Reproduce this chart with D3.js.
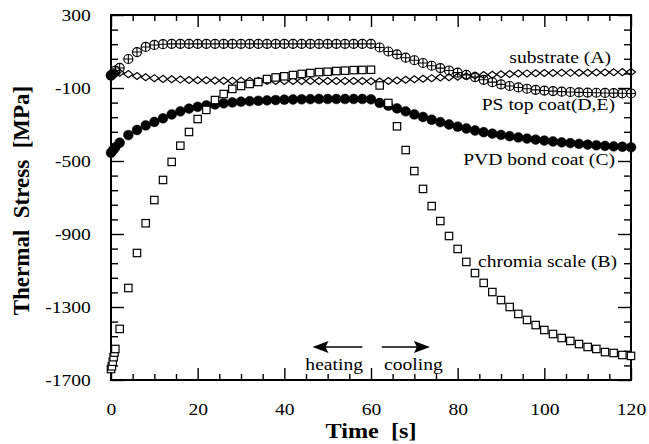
<!DOCTYPE html>
<html><head><meta charset="utf-8">
<script src="https://cdn.jsdelivr.net/npm/d3@7/dist/d3.min.js"></script>
<style>
html,body{margin:0;padding:0;background:#fff;}
text{font-family:"Liberation Serif","Times New Roman",serif;fill:#000;}
</style></head>
<body><svg id="c" width="649" height="444"></svg>
<script>
// ---------- data ----------
const xTicks = [0,20,40,60,80,100,120];
const yTicks = [300,-100,-500,-900,-1300,-1700];

// substrate (A) - diamonds
const tA = [0,0.5,1,2,4,6,8,10,12,14,16,18,20,22,24,26,28,30,32,34,36,38,40,42,44,46,48,50,52,54,56,58,60,62,64,66,68,70,72,74,76,78,80,82,84,86,88,90,92,94,96,98,100,102,104,106,108,110,112,114,116,118,120];
const vA = [-30,-26,-22,-16,-24,-34,-41,-46,-50,-52,-54,-56,-57,-58,-59,-60,-61,-61,-61,-61,-61,-62,-62,-62,-62,-62,-62,-62,-62,-62,-62,-62,-63,-64,-62,-59,-55,-52,-49,-46,-43,-41,-38,-35,-32,-29,-27,-25,-23,-21,-20,-19,-18,-18,-17,-17,-16,-16,-15,-15,-14,-13,-12];

// PS top coat (D,E) - circle with plus
const tDE = [0,0.5,1,2,4,6,8,10,12,14,16,18,20,22,24,26,28,30,32,34,36,38,40,42,44,46,48,50,52,54,56,58,60,62,64,66,68,70,72,74,76,78,80,82,84,86,88,90,92,94,96,98,100,102,104,106,108,110,112,114,116,118,120];
const vDE = [-32,-20,-5,10,59,97,125,136,140,142,142,142,142,142,142,142,142,142,142,142,142,142,142,142,142,142,142,142,142,142,142,142,142,122,100,84,66,52,37,22,9,-4,-16,-28,-40,-55,-68,-80,-89,-97,-104,-110,-114,-117,-120,-122,-124,-125,-126,-127,-128,-129,-130];

// PVD bond coat (C) - filled circles
const tC = [0,0,0.5,1,2,4,6,8,10,12,14,16,18,20,22,24,26,28,30,32,34,36,38,40,42,44,46,48,50,52,54,56,58,60,62,64,66,68,70,72,74,76,78,80,82,84,86,88,90,92,94,96,98,100,102,104,106,108,110,112,114,116,118,120];
const vC = [-30,-455,-440,-425,-400,-358,-330,-305,-286,-266,-245,-228,-213,-203,-196,-190,-184,-179,-175,-172,-170,-168,-166,-164,-163,-162,-161,-160,-160,-160,-160,-160,-160,-162,-182,-197,-212,-228,-245,-259,-274,-287,-300,-312,-322,-333,-342,-350,-357,-364,-371,-377,-383,-388,-393,-398,-402,-406,-410,-414,-417,-420,-422,-425];

// chromia scale (B) - squares
const tB = [0,0.2,0.4,0.6,0.8,1,2,4,6,8,10,12,14,16,18,20,22,24,26,28,30,32,34,36,38,40,42,44,46,48,50,52,54,56,58,60,62,64,66,68,70,72,74,76,78,80,82,84,86,88,90,92,94,96,98,100,102,104,106,108,110,112,114,116,118,120];
const vB = [-1640,-1625,-1600,-1575,-1550,-1530,-1420,-1196,-1004,-841,-714,-604,-505,-416,-341,-270,-220,-166,-133,-105,-89,-78,-67,-51,-42,-36,-29,-23,-18,-13,-11,-7,-5,-2,-1,0,-86,-182,-310,-440,-555,-653,-747,-829,-911,-982,-1053,-1114,-1168,-1218,-1262,-1300,-1338,-1371,-1399,-1426,-1448,-1470,-1486,-1503,-1519,-1530,-1547,-1552,-1563,-1568];

const seriesLabels = ["substrate (A)","PS top coat(D,E)","PVD bond coat (C)","chromia scale (B)"];
const labelT = [115.4,116.3,116.3,116.8];   // right end of label (time units)
const labelV = [37,-220,-522,-1081];        // baseline (stress units)
const xTitle = "Time  [s]";
const yTitle = "Thermal  Stress  [MPa]";

// ---------- chart ----------
const svg = d3.select("#c");
const x = d3.scaleLinear().domain([0,120]).range([111,631]);
const y = d3.scaleLinear().domain([-1700,300]).range([380,15]);
const SX = 1.12;

const zip = (t,v)=>t.map((d,i)=>({t:d,v:v[i]}));

const xMinor = d3.range(0,121,5).filter(d=>d%20!==0);
const yMinor = d3.range(-1700,301,80).filter(d=>(d+1700)%400!==0);

function styleAxis(g){
  g.select(".domain").remove();
  g.selectAll("line").attr("stroke","#000").attr("stroke-width",1.4);
}
const fmt = d=>String(d);
// bottom
svg.append("g").attr("transform",`translate(0,${y(-1700)})`)
  .call(d3.axisBottom(x).tickValues(xTicks).tickSizeInner(-12).tickSizeOuter(0).tickPadding(23).tickFormat(fmt))
  .call(styleAxis)
  .call(g=>g.selectAll("text").attr("font-size",17.5).attr("transform",`scale(${SX},1)`).style("font-family","Liberation Serif"));
svg.append("g").attr("transform",`translate(0,${y(-1700)})`)
  .call(d3.axisBottom(x).tickValues(xMinor).tickSizeInner(-6).tickSizeOuter(0).tickFormat(""))
  .call(styleAxis);
// top
svg.append("g").attr("transform",`translate(0,${y(300)})`)
  .call(d3.axisTop(x).tickValues(xTicks).tickSizeInner(-12).tickSizeOuter(0).tickFormat(""))
  .call(styleAxis);
svg.append("g").attr("transform",`translate(0,${y(300)})`)
  .call(d3.axisTop(x).tickValues(xMinor).tickSizeInner(-6).tickSizeOuter(0).tickFormat(""))
  .call(styleAxis);
// left
svg.append("g").attr("transform",`translate(${x(0)},0)`)
  .call(d3.axisLeft(y).tickValues(yTicks).tickSizeInner(-13).tickSizeOuter(0).tickPadding(18).tickFormat(fmt))
  .call(styleAxis)
  .call(g=>g.selectAll("text").attr("font-size",17.5).attr("transform",`scale(${SX},1)`).attr("dy","0.34em").style("font-family","Liberation Serif"));
svg.append("g").attr("transform",`translate(${x(0)},0)`)
  .call(d3.axisLeft(y).tickValues(yMinor).tickSizeInner(-7).tickSizeOuter(0).tickFormat(""))
  .call(styleAxis);
// right
svg.append("g").attr("transform",`translate(${x(120)},0)`)
  .call(d3.axisRight(y).tickValues(yTicks).tickSizeInner(-13).tickSizeOuter(0).tickFormat(""))
  .call(styleAxis);
svg.append("g").attr("transform",`translate(${x(120)},0)`)
  .call(d3.axisRight(y).tickValues(yMinor).tickSizeInner(-7).tickSizeOuter(0).tickFormat(""))
  .call(styleAxis);

// frame
svg.append("rect").attr("x",x(0)).attr("y",y(300)).attr("width",x(120)-x(0)).attr("height",y(-1700)-y(300))
  .attr("fill","none").attr("stroke","#000").attr("stroke-width",2);

const plot = svg.append("g");

// filled circles (C)
plot.selectAll(".c").data(zip(tC,vC)).join("circle")
  .attr("cx",d=>x(d.t)).attr("cy",d=>y(d.v)).attr("r",4.9)
  .attr("fill","#000").attr("stroke","#000").attr("stroke-width",0.5);

// diamonds (A)
plot.selectAll(".a").data(zip(tA,vA)).join("path")
  .attr("d",d=>{const cx=x(d.t),cy=y(d.v),w=4.5,h=3.5;return `M${cx-w},${cy}L${cx},${cy-h}L${cx+w},${cy}L${cx},${cy+h}Z`;})
  .attr("fill","none").attr("stroke","#000").attr("stroke-width",1.2);

// circle-plus (D,E)
const de = plot.selectAll(".de").data(zip(tDE,vDE)).join("g");
de.append("circle").attr("cx",d=>x(d.t)).attr("cy",d=>y(d.v)).attr("r",4.5)
  .attr("fill","none").attr("stroke","#000").attr("stroke-width",1.2);
de.append("path").attr("d",d=>{const cx=x(d.t),cy=y(d.v),r=4.5;return `M${cx-r},${cy}H${cx+r}M${cx},${cy-r}V${cy+r}`;})
  .attr("stroke","#000").attr("stroke-width",1.1);

// squares (B)
plot.selectAll(".b").data(zip(tB,vB)).join("rect")
  .attr("x",d=>x(d.t)-3.7).attr("y",d=>y(d.v)-3.7).attr("width",7.4).attr("height",7.4)
  .attr("fill","#fff").attr("stroke","#000").attr("stroke-width",1.2);

// series labels
seriesLabels.forEach((s,i)=>{
  svg.append("text").attr("transform",`translate(${x(labelT[i])},${y(labelV[i])}) scale(${SX},1)`)
    .attr("text-anchor","end").attr("font-size",17.5).text(s);
});

// heating / cooling
svg.append("text").attr("transform",`translate(${x(51.5)},370) scale(${SX},1)`).attr("text-anchor","middle").attr("font-size",17.5).text("heating");
svg.append("text").attr("transform",`translate(${x(69.8)},370) scale(${SX},1)`).attr("text-anchor","middle").attr("font-size",17.5).text("cooling");
function arrow(x1,x2,yy){
  const dir = Math.sign(x2-x1), L=16, Hh=6, notch=3;
  svg.append("line").attr("x1",x1).attr("x2",x2-dir*L*0.6).attr("y1",yy).attr("y2",yy).attr("stroke","#000").attr("stroke-width",1.6);
  svg.append("path").attr("d",`M${x2},${yy}L${x2-dir*L},${yy-Hh}L${x2-dir*(L-notch)},${yy}L${x2-dir*L},${yy+Hh}Z`).attr("fill","#000");
}
arrow(x(58),x(46.5),347);
arrow(x(62.5),x(73.6),347);

// axis titles
svg.append("text").attr("transform",`translate(${(x(0)+x(120))/2},438) scale(1.1,1)`)
  .attr("text-anchor","middle").attr("font-size",22).attr("font-weight","bold").style("white-space","pre").text(xTitle);
svg.append("text").attr("transform",`translate(29,${(y(300)+y(-1700))/2+3}) rotate(-90)`)
  .attr("text-anchor","middle").attr("font-size",23).attr("font-weight","bold").style("white-space","pre").text(yTitle);
</script></body></html>
